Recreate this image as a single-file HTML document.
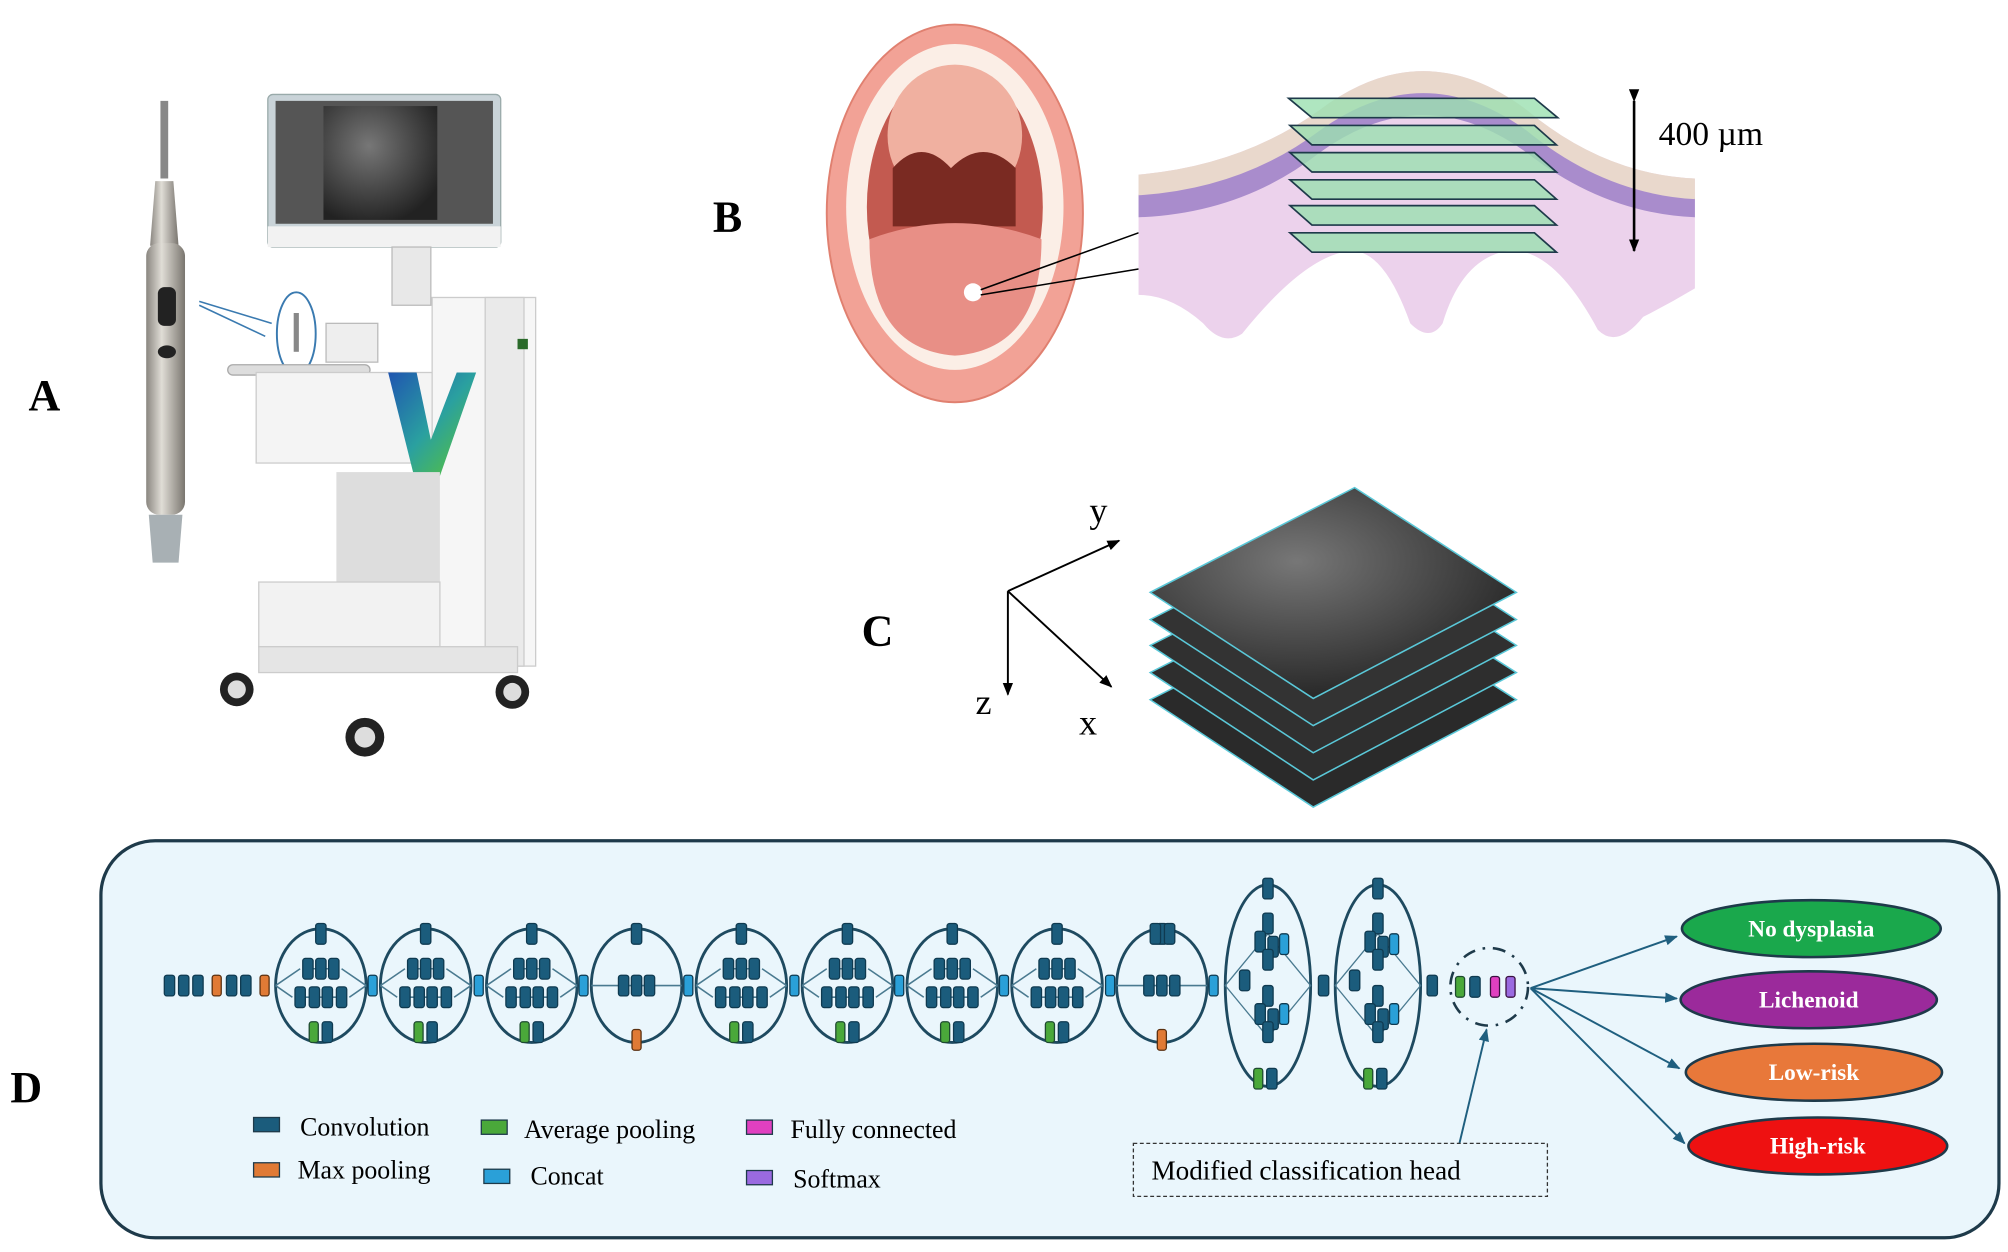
<!DOCTYPE html>
<html><head><meta charset="utf-8"><style>
html,body{margin:0;padding:0;background:#fff;}
svg{display:block;}
text{font-family:"Liberation Serif",serif;}
</style></head><body>
<svg width="2008" height="1252" viewBox="0 0 1552 968" preserveAspectRatio="none" xmlns="http://www.w3.org/2000/svg">
<defs>
<marker id="ah" markerWidth="10" markerHeight="8" refX="9" refY="4" orient="auto" markerUnits="userSpaceOnUse"><path d="M0,0 L10,4 L0,8 z" fill="#1f5f7f"/></marker>
<marker id="ak" markerWidth="10" markerHeight="8" refX="9" refY="4" orient="auto" markerUnits="userSpaceOnUse"><path d="M0,0 L10,4 L0,8 z" fill="#000"/></marker>
<linearGradient id="vg" x1="0" y1="0" x2="1" y2="1"><stop offset="0" stop-color="#1f55b0"/><stop offset="0.5" stop-color="#2aa0a0"/><stop offset="1" stop-color="#5fc82a"/></linearGradient>
<linearGradient id="sil" x1="0" x2="1"><stop offset="0" stop-color="#8a8680"/><stop offset="0.4" stop-color="#e0ddd6"/><stop offset="1" stop-color="#7a766f"/></linearGradient>
<radialGradient id="cf" cx="0.4" cy="0.35" r="0.7"><stop offset="0" stop-color="#777"/><stop offset="1" stop-color="#222"/></radialGradient>
<g id="blk"><rect x="-4" y="-8" width="8" height="16" rx="2" fill="#1b5c7c" stroke="#0f3a50" stroke-width="1"/></g>
<g id="m1">
 <ellipse cx="0" cy="0" rx="35" ry="44" fill="none" stroke="#1e4a60" stroke-width="2.2"/>
 <path d="M-35,0 L-16,-13 M-35,0 L-22,9 M35,0 L16,-13 M35,0 L22,9 M-12,-13 L12,-13 M-18,9 L18,9" stroke="#4a7a90" stroke-width="1.2" fill="none"/>
 <use href="#blk" x="0" y="-40"/>
 <use href="#blk" x="-10" y="-13"/><use href="#blk" x="0" y="-13"/><use href="#blk" x="10" y="-13"/>
 <use href="#blk" x="-16" y="9"/><use href="#blk" x="-5" y="9"/><use href="#blk" x="5" y="9"/><use href="#blk" x="16" y="9"/>
 <rect x="-9" y="28" width="7" height="16" rx="2" fill="#4aa83a" stroke="#1e4a30"/>
 <use href="#blk" x="5" y="36"/>
</g>
<g id="m2">
 <ellipse cx="0" cy="0" rx="35" ry="44" fill="none" stroke="#1e4a60" stroke-width="2.2"/>
 <line x1="-35" y1="0" x2="35" y2="0" stroke="#4a7a90" stroke-width="1.2"/>
 <use href="#blk" x="0" y="-40"/>
 <use href="#blk" x="-10" y="0"/><use href="#blk" x="0" y="0"/><use href="#blk" x="10" y="0"/>
 <rect x="-3.5" y="34" width="7" height="16" rx="2" fill="#e07a35" stroke="#5a3010"/>
</g>
<g id="m3">
 <ellipse cx="0" cy="0" rx="33" ry="78" fill="none" stroke="#1e4a60" stroke-width="2.2"/>
 <path d="M-33,0 L0,-40 L33,0 L0,40 z" stroke="#4a7a90" stroke-width="1" fill="none"/>
 <use href="#blk" x="0" y="-75"/>
 <use href="#blk" x="0" y="-48"/><use href="#blk" x="-6" y="-34"/><use href="#blk" x="4" y="-30"/><rect x="9" y="-40" width="7" height="16" rx="2" fill="#2aa0d8" stroke="#0f3a50"/><use href="#blk" x="0" y="-20"/>
 <use href="#blk" x="-18" y="-4"/>
 <use href="#blk" x="0" y="8"/><use href="#blk" x="-6" y="22"/><use href="#blk" x="4" y="26"/><rect x="9" y="14" width="7" height="16" rx="2" fill="#2aa0d8" stroke="#0f3a50"/><use href="#blk" x="0" y="36"/>
 <rect x="-11" y="64" width="7" height="16" rx="2" fill="#4aa83a" stroke="#1e4a30"/>
 <use href="#blk" x="3" y="72"/>
</g>
<g id="cc"><rect x="-3.5" y="-8" width="7" height="16" rx="2" fill="#2aa0d8" stroke="#0f3a50"/></g>
</defs>

<!-- Panel labels -->
<text x="22" y="317" font-size="34" font-weight="bold">A</text>
<text x="551" y="179" font-size="34" font-weight="bold">B</text>
<text x="666" y="499" font-size="34" font-weight="bold">C</text>
<text x="8" y="852" font-size="34" font-weight="bold">D</text>

<!-- Panel A: probe -->
<rect x="124" y="78" width="6" height="60" fill="#888"/>
<path d="M120,140 L134,140 L138,190 L116,190 z" fill="url(#sil)"/>
<rect x="113" y="188" width="30" height="210" rx="10" fill="url(#sil)"/>
<rect x="122" y="222" width="14" height="30" rx="5" fill="#222"/>
<ellipse cx="129" cy="272" rx="7" ry="5" fill="#222"/>
<path d="M115,398 L141,398 L138,435 L118,435 z" fill="#a8b0b4"/>
<path d="M154,233 L210,250 M154,236 L205,260" stroke="#3a7ab0" stroke-width="1.2" fill="none"/>
<ellipse cx="229" cy="258" rx="15" ry="32" fill="none" stroke="#3a7ab0" stroke-width="1.5"/>
<rect x="227" y="242" width="4" height="30" fill="#888"/>
<rect x="207" y="73" width="180" height="118" rx="4" fill="#c9d3d8" stroke="#9aa" />
<rect x="213" y="78" width="168" height="95" fill="#555"/>
<rect x="250" y="82" width="88" height="88" fill="url(#cf)"/>
<rect x="207" y="175" width="180" height="16" fill="#f2f2f2"/>
<rect x="303" y="191" width="30" height="45" fill="#e8e8e8" stroke="#bbb"/>
<rect x="176" y="282" width="110" height="8" rx="4" fill="#ddd" stroke="#aaa"/>
<rect x="252" y="250" width="40" height="30" fill="#eee" stroke="#bbb"/>
<rect x="198" y="288" width="150" height="70" fill="#f4f4f4" stroke="#ccc"/>
<rect x="334" y="230" width="80" height="285" fill="#f6f6f6" stroke="#ccc"/>
<rect x="375" y="230" width="30" height="285" fill="#eaeaea" stroke="#ccc"/>
<rect x="400" y="262" width="8" height="8" fill="#2a6a2a"/>
<path d="M300,288 L322,288 L333,340 L353,288 L368,288 L340,368 L320,368 z" fill="url(#vg)"/>
<rect x="260" y="365" width="80" height="90" fill="#ddd"/>
<rect x="200" y="450" width="140" height="50" fill="#f2f2f2" stroke="#ccc"/>
<rect x="200" y="500" width="200" height="20" fill="#e5e5e5" stroke="#ccc"/>
<circle cx="183" cy="533" r="13" fill="#222"/><circle cx="183" cy="533" r="7" fill="#ddd"/>
<circle cx="396" cy="535" r="13" fill="#222"/><circle cx="396" cy="535" r="7" fill="#ddd"/>
<circle cx="282" cy="570" r="15" fill="#222"/><circle cx="282" cy="570" r="8" fill="#ddd"/>

<!-- Panel B: mouth -->
<ellipse cx="738" cy="165" rx="99" ry="146" fill="#f2a296" stroke="#e08070" stroke-width="1.5"/>
<ellipse cx="738" cy="160" rx="84" ry="126" fill="#fbeee6"/>
<ellipse cx="738" cy="160" rx="68" ry="108" fill="#c35a50"/>
<ellipse cx="738" cy="105" rx="52" ry="55" fill="#f0b0a0"/>
<path d="M690,130 Q712,105 735,130 Q760,105 785,130 L785,175 L690,175 z" fill="#7a2a22"/>
<path d="M672,185 Q738,160 805,185 Q805,270 738,275 Q672,270 672,185 z" fill="#e88f86"/>
<circle cx="752" cy="226" r="7" fill="#fff"/>
<path d="M758,224 L880,180 M758,228 L880,208" stroke="#000" stroke-width="1.2"/>
<!-- tissue -->
<path d="M880,135 Q960,128 1020,85 Q1100,25 1180,85 Q1240,135 1310,138 L1310,223 Q1290,235 1270,245 Q1250,270 1235,255 Q1200,190 1165,194 Q1130,200 1115,250 Q1105,265 1090,250 Q1070,194 1045,194 Q1010,196 960,258 Q945,268 930,250 Q905,228 880,228 z" fill="#ecd2ec"/>
<path d="M880,150 Q960,145 1020,100 Q1100,42 1180,100 Q1240,150 1310,153 L1310,168 Q1240,165 1180,118 Q1100,60 1020,118 Q960,165 880,168 z" fill="#a98ccc"/>
<path d="M880,135 Q960,128 1020,85 Q1100,25 1180,85 Q1240,135 1310,138 L1310,154 Q1240,150 1180,101 Q1100,43 1020,101 Q960,146 880,151 z" fill="#e9d8cc"/>
<g fill="#9be0b0" fill-opacity="0.8" stroke="#1e3a4a" stroke-width="1.3">
<path d="M996,76 L1186,76 L1204,91 L1014,91 z"/>
<path d="M997,97 L1186,97 L1203,112 L1014,112 z"/>
<path d="M997,118 L1186,118 L1203,133 L1014,133 z"/>
<path d="M997,139 L1186,139 L1203,154 L1014,154 z"/>
<path d="M997,159 L1186,159 L1203,174 L1014,174 z"/>
<path d="M997,180 L1186,180 L1203,195 L1014,195 z"/>
</g>
<line x1="1263" y1="78" x2="1263" y2="194" stroke="#000" stroke-width="2" marker-start="url(#ak)" marker-end="url(#ak)"/>
<text x="1282" y="112" font-size="26">400 µm</text>

<!-- Panel C -->
<line x1="779" y1="457" x2="865" y2="418" stroke="#000" stroke-width="1.5" marker-end="url(#ak)"/>
<line x1="779" y1="457" x2="779" y2="537" stroke="#000" stroke-width="1.5" marker-end="url(#ak)"/>
<line x1="779" y1="457" x2="859" y2="531" stroke="#000" stroke-width="1.5" marker-end="url(#ak)"/>
<text x="842" y="404" font-size="28">y</text>
<text x="754" y="552" font-size="28">z</text>
<text x="834" y="568" font-size="28">x</text>
<g stroke="#5ac8d8" stroke-width="1.2">
<path d="M889,541 L1047,461 L1172,541 L1015,624 z" fill="#2a2a2a"/>
<path d="M889,520 L1047,440 L1172,520 L1015,603 z" fill="#2e2e2e"/>
<path d="M889,499 L1047,419 L1172,499 L1015,582 z" fill="#303030"/>
<path d="M889,479 L1047,398 L1172,479 L1015,561 z" fill="#333"/>
<path d="M889,458 L1047,377 L1172,458 L1015,540 z" fill="url(#cf)"/>
</g>

<!-- Panel D -->
<rect x="78" y="650" width="1467" height="307" rx="42" fill="#eaf6fc" stroke="#1e3a4a" stroke-width="2.5"/>
<g>
<use href="#blk" x="131" y="762"/><use href="#blk" x="142" y="762"/><use href="#blk" x="153" y="762"/>
<rect x="164" y="754" width="7" height="16" rx="2" fill="#e07a35" stroke="#5a3010"/>
<use href="#blk" x="179" y="762"/><use href="#blk" x="190" y="762"/>
<rect x="201" y="754" width="7" height="16" rx="2" fill="#e07a35" stroke="#5a3010"/>
<use href="#m1" x="248" y="762"/><use href="#cc" x="288" y="762"/>
<use href="#m1" x="329" y="762"/><use href="#cc" x="370" y="762"/>
<use href="#m1" x="411" y="762"/><use href="#cc" x="451" y="762"/>
<use href="#m2" x="492" y="762"/><use href="#cc" x="532" y="762"/>
<use href="#m1" x="573" y="762"/><use href="#cc" x="614" y="762"/>
<use href="#m1" x="655" y="762"/><use href="#cc" x="695" y="762"/>
<use href="#m1" x="736" y="762"/><use href="#cc" x="776" y="762"/>
<use href="#m1" x="817" y="762"/><use href="#cc" x="858" y="762"/>
<use href="#m2" x="898" y="762"/><use href="#cc" x="938" y="762"/>
<use href="#blk" x="893" y="722"/><use href="#blk" x="904" y="722"/>
<use href="#m3" x="980" y="762"/><use href="#blk" x="1023" y="762"/>
<use href="#m3" x="1065" y="762"/><use href="#blk" x="1107" y="762"/>
<circle cx="1151" cy="763" r="30" fill="none" stroke="#1e3a4a" stroke-width="2" stroke-dasharray="10,6,2,6"/>
<rect x="1125" y="755" width="7" height="16" rx="2" fill="#4aa83a" stroke="#1e4a30"/>
<use href="#blk" x="1140" y="763"/>
<rect x="1152" y="755" width="7" height="16" rx="2" fill="#e040c0" stroke="#3a1040"/>
<rect x="1164" y="755" width="7" height="16" rx="2" fill="#9a6ae0" stroke="#3a1040"/>
</g>
<g stroke="#1f5f7f" stroke-width="1.5">
<line x1="1183" y1="764" x2="1296" y2="724" marker-end="url(#ah)"/>
<line x1="1183" y1="764" x2="1296" y2="772" marker-end="url(#ah)"/>
<line x1="1183" y1="764" x2="1298" y2="826" marker-end="url(#ah)"/>
<line x1="1183" y1="764" x2="1302" y2="884" marker-end="url(#ah)"/>
<line x1="1128" y1="884" x2="1149" y2="796" marker-end="url(#ah)"/>
</g>
<g stroke="#1e3a4a" stroke-width="2">
<ellipse cx="1400" cy="718" rx="100" ry="22" fill="#1aa84c"/>
<ellipse cx="1398" cy="773" rx="99" ry="22" fill="#9b2a9b"/>
<ellipse cx="1402" cy="829" rx="99" ry="22" fill="#e8783a"/>
<ellipse cx="1405" cy="886" rx="100" ry="22" fill="#ee1111"/>
</g>
<g font-size="18" font-weight="bold" fill="#fff" text-anchor="middle">
<text x="1400" y="724">No dysplasia</text>
<text x="1398" y="779">Lichenoid</text>
<text x="1402" y="835">Low-risk</text>
<text x="1405" y="892">High-risk</text>
</g>
<rect x="876" y="884" width="320" height="41" fill="none" stroke="#333" stroke-width="1" stroke-dasharray="3,2"/>
<text x="890" y="912" font-size="21">Modified classification head</text>
<g stroke="#1e3a4a" stroke-width="1">
<rect x="196" y="864" width="20" height="11" fill="#1b5c7c"/>
<rect x="196" y="899" width="20" height="11" fill="#e07a35"/>
<rect x="372" y="866" width="20" height="11" fill="#4aa83a"/>
<rect x="374" y="904" width="20" height="11" fill="#2aa0d8"/>
<rect x="577" y="866" width="20" height="11" fill="#e040c0"/>
<rect x="577" y="905" width="20" height="11" fill="#9a6ae0"/>
</g>
<g font-size="20">
<text x="232" y="878">Convolution</text>
<text x="230" y="911">Max pooling</text>
<text x="405" y="880">Average pooling</text>
<text x="410" y="916">Concat</text>
<text x="611" y="880">Fully connected</text>
<text x="613" y="918">Softmax</text>
</g>
</svg>
</body></html>
